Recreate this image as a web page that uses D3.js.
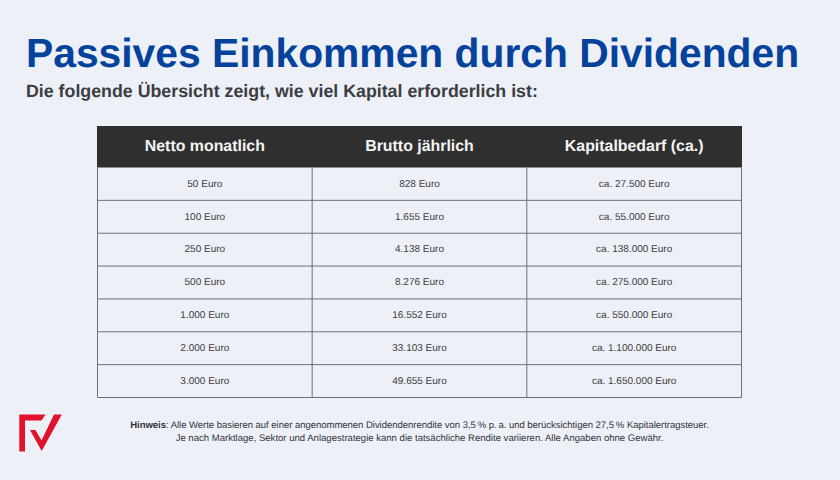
<!DOCTYPE html>
<html>
<head>
<meta charset="utf-8">
<script src="https://cdn.jsdelivr.net/npm/d3@7"></script>
<style>
html, body { margin: 0; padding: 0; background: #edf0f7; }
text { font-family: "Liberation Sans", Arial, sans-serif; text-rendering: geometricPrecision; }
</style>
</head>
<body>
<div id="chart"></div>
<script>
// table content
var columns = ["Netto monatlich", "Brutto jährlich", "Kapitalbedarf (ca.)"];
var netto = ["50 Euro", "100 Euro", "250 Euro", "500 Euro", "1.000 Euro", "2.000 Euro", "3.000 Euro"];
var brutto = ["828 Euro", "1.655 Euro", "4.138 Euro", "8.276 Euro", "16.552 Euro", "33.103 Euro", "49.655 Euro"];
var kapital = ["ca. 27.500 Euro", "ca. 55.000 Euro", "ca. 138.000 Euro", "ca. 275.000 Euro", "ca. 550.000 Euro", "ca. 1.100.000 Euro", "ca. 1.650.000 Euro"];

var width = 840, height = 480;
var svg = d3.select("#chart").append("svg")
    .attr("width", width)
    .attr("height", height)
    .style("display", "block");

svg.append("rect").attr("width", width).attr("height", height).attr("fill", "#edf0f7");

// title and subtitle
svg.append("text")
    .attr("x", 26).attr("y", 67)
    .attr("font-size", 40.8).attr("font-weight", "bold")
    .attr("fill", "#04429c")
    .text("Passives Einkommen durch Dividenden");
svg.append("text")
    .attr("x", 26).attr("y", 97)
    .attr("font-size", 17.8).attr("font-weight", "bold")
    .attr("fill", "#3a3d42")
    .text("Die folgende Übersicht zeigt, wie viel Kapital erforderlich ist:");

// table scales
var x = d3.scaleBand().domain(columns).range([97.5, 741.5]);
var y = d3.scaleBand().domain(netto).range([167.5, 397.5]);
var headTop = 126;

svg.append("rect")
    .attr("x", 97).attr("y", headTop)
    .attr("width", 645).attr("height", y.range()[0] - headTop)
    .attr("fill", "#2f2f2f");

svg.selectAll(".head").data(columns).enter().append("text")
    .attr("class", "head")
    .attr("x", function(d) { return x(d) + x.bandwidth() / 2; })
    .attr("y", 150.5)
    .attr("text-anchor", "middle")
    .attr("font-size", 15.9).attr("font-weight", "bold")
    .attr("fill", "#f4f4f4")
    .text(function(d) { return d; });

// grid lines
var gridColor = "#6d7076";
svg.selectAll(".hline").data(netto).enter().append("line")
    .attr("class", "hline")
    .attr("x1", x.range()[0]).attr("x2", x.range()[1])
    .attr("y1", function(d) { return y(d) + y.bandwidth(); })
    .attr("y2", function(d) { return y(d) + y.bandwidth(); })
    .attr("stroke", gridColor);
svg.selectAll(".vline").data(columns.concat(["end"])).enter().append("line")
    .attr("class", "vline")
    .attr("x1", function(d, i) { return x.range()[0] + i * x.bandwidth(); })
    .attr("x2", function(d, i) { return x.range()[0] + i * x.bandwidth(); })
    .attr("y1", y.range()[0]).attr("y2", y.range()[1])
    .attr("stroke", gridColor);

// cells
[netto, brutto, kapital].forEach(function(col, c) {
  svg.selectAll(".cell" + c).data(col).enter().append("text")
      .attr("class", "cell" + c)
      .attr("x", x(columns[c]) + x.bandwidth() / 2)
      .attr("y", function(d, i) { return y(netto[i]) + y.bandwidth() / 2 + 2.8; })
      .attr("text-anchor", "middle")
      .attr("font-size", 10)
      .attr("fill", "#3a3c40")
      .text(function(d) { return d; });
});

// footnote
var note = svg.append("text")
    .attr("x", 419.5).attr("y", 428)
    .attr("text-anchor", "middle")
    .attr("font-size", 9.55)
    .attr("letter-spacing", -0.045)
    .attr("fill", "#33353a");
note.append("tspan").attr("font-weight", "bold").text("Hinweis");
note.append("tspan").text(": Alle Werte basieren auf einer angenommenen Dividendenrendite von 3,5\u202f% p.\u202fa. und berücksichtigen 27,5\u202f% Kapitalertragsteuer.");
svg.append("text")
    .attr("x", 419.5).attr("y", 441)
    .attr("text-anchor", "middle")
    .attr("font-size", 9.55)
    .attr("fill", "#33353a")
    .text("Je nach Marktlage, Sektor und Anlagestrategie kann die tatsächliche Rendite variieren. Alle Angaben ohne Gewähr.");

// logo
svg.append("path")
    .attr("d", "M19.3 414.5 H45.5 L41.5 420.5 H25 V451.5 H19.3 Z")
    .attr("fill", "#e2122d");
svg.append("path")
    .attr("d", "M30 430 H35.5 L41.5 440.5 L54 414.5 H61.8 L41.7 451 Z")
    .attr("fill", "#e2122d");
</script>
</body>
</html>
